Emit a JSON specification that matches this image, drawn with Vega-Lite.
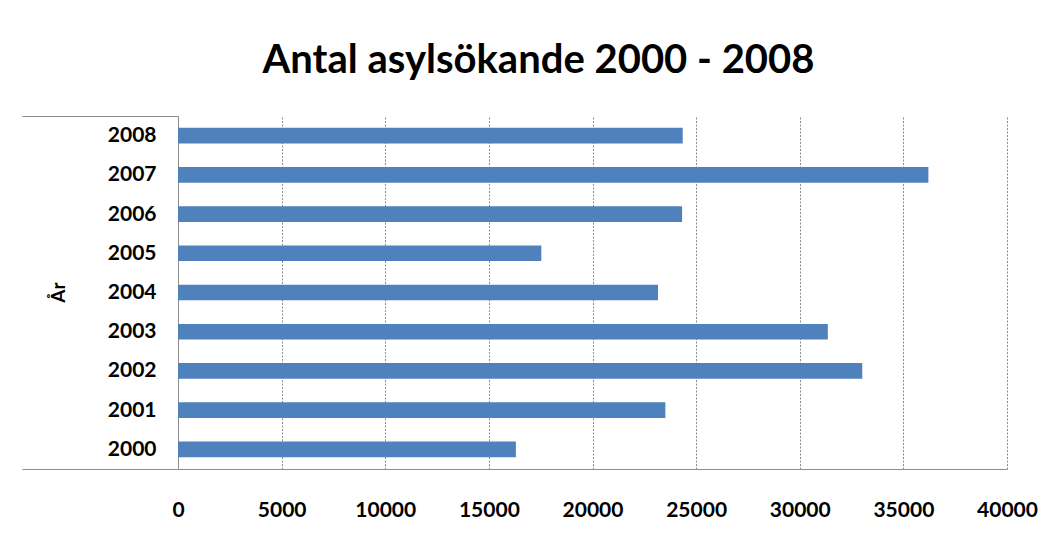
{
  "$schema": "https://vega.github.io/schema/vega-lite/v6.json",
  "autosize": "none",
  "width": 829,
  "height": 353,
  "padding": {"left": 178, "top": 116, "right": 43, "bottom": 73},
  "background": "white",
  "title": {
    "text": "Antal asylsökande 2000 - 2008",
    "font": "Lato",
    "fontSize": 40,
    "fontWeight": "bold",
    "color": "#000000",
    "anchor": "middle",
    "frame": "group",
    "dx": -54,
    "offset": 24
  },
  "config": {
    "view": {"stroke": null},
    "axis": {"labelFont": "Lato", "titleFont": "Lato", "labelColor": "#000000", "titleColor": "#000000"}
  },
  "data": {
    "values": [
      {"year": "2000", "count": 16303},
      {"year": "2001", "count": 23515},
      {"year": "2002", "count": 33016},
      {"year": "2003", "count": 31355},
      {"year": "2004", "count": 23161},
      {"year": "2005", "count": 17530},
      {"year": "2006", "count": 24322},
      {"year": "2007", "count": 36207},
      {"year": "2008", "count": 24353}
    ]
  },
  "mark": {"type": "bar", "color": "#4F81BD", "height": {"band": 0.4}},
  "encoding": {
    "y": {
      "field": "year",
      "type": "ordinal",
      "sort": "descending",
      "scale": {"paddingInner": 0, "paddingOuter": 0},
      "axis": {
        "title": "År",
        "titleFontSize": 19,
        "titleFontWeight": "bold",
        "titleAngle": -90,
        "titleX": -120,
        "titleY": 176,
        "titleAlign": "center",
        "titleBaseline": "middle",
        "labelFontSize": 21,
        "labelFontWeight": "bold",
        "labelPadding": -134,
        "tickBand": "extent",
        "tickSize": 156,
        "tickColor": "#8c8c8c",
        "tickOpacity": {"condition": {"test": "datum.extra || datum.value == '2000'", "value": 1}, "value": 0},
        "domainColor": "#8c8c8c",
        "grid": false
      }
    },
    "x": {
      "field": "count",
      "type": "quantitative",
      "scale": {"domain": [0, 40000], "nice": false},
      "axis": {
        "title": null,
        "values": [0, 5000, 10000, 15000, 20000, 25000, 30000, 35000, 40000],
        "format": "d",
        "labelFontSize": 21,
        "labelFontWeight": "bold",
        "labelPadding": 30,
        "labelFlush": false,
        "ticks": false,
        "domainColor": "#8c8c8c",
        "grid": true,
        "gridColor": "#8c8c8c",
        "gridDash": [2, 1.5]
      }
    }
  }
}
